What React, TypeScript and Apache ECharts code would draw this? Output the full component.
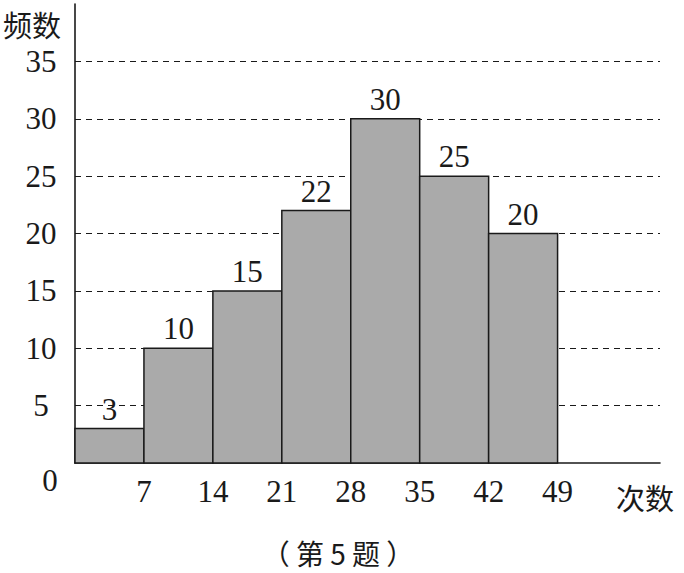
import React, { useEffect, useRef } from "react";
import * as echarts from "echarts";

const binStarts = [0, 7, 14, 21, 28, 35, 42];
const binEnds = [7, 14, 21, 28, 35, 42, 49];
const freqs = [3, 10, 15, 22, 30, 25, 20];
const xTickLabels = [7, 14, 21, 28, 35, 42, 49];
const yTickLabels = [5, 10, 15, 20, 25, 30, 35];
const yName = "频数";
const xName = "次数";
const caption = "（ 第 5 题 ）";
const originLabel = "0";

const SERIF = '"Liberation Serif", "DejaVu Serif", serif';
const CJK = '"Noto Sans CJK SC", sans-serif';
const INK = "#1a1a1a";

export default function App() {
  const ref = useRef<HTMLDivElement>(null);
  useEffect(() => {
    document.body.style.margin = "0";
    const chart = echarts.init(ref.current!, null, { renderer: "svg" });
    const data = binStarts.map((s, i) => [s, binEnds[i], freqs[i]]);
    chart.setOption({
      animation: false,
      backgroundColor: "#fff",
      grid: { left: 75, right: 24, top: 4, bottom: 110, containLabel: false },
      xAxis: {
        type: "value",
        min: 0,
        max: 59.4,
        interval: 7,
        axisLine: { show: true, lineStyle: { color: INK, width: 1.6 } },
        axisTick: { show: false },
        splitLine: { show: false },
        axisLabel: {
          margin: 13,
          fontFamily: SERIF,
          fontSize: 31,
          color: INK,
          showMinLabel: true,
          showMaxLabel: true,
          formatter: (v: number) => (xTickLabels.includes(Math.round(v * 100) / 100) ? String(v) : ""),
        },
      },
      yAxis: {
        type: "value",
        min: 0,
        max: 40,
        interval: 5,
        axisLine: { show: true, lineStyle: { color: INK, width: 1.6 } },
        axisTick: { show: false },
        splitLine: {
          show: true,
          showMinLine: false,
          showMaxLine: false,
          lineStyle: { color: INK, width: 1.2, type: [6, 5] },
        },
        axisLabel: {
          margin: 34,
          align: "center",
          fontFamily: SERIF,
          fontSize: 31,
          color: INK,
          formatter: (v: number) => (yTickLabels.includes(v) ? String(v) : ""),
        },
      },
      graphic: [
        {
          type: "text",
          x: 32,
          y: 24,
          style: { text: yName, fontSize: 29, fontFamily: CJK, fill: INK, align: "center", verticalAlign: "middle" },
        },
        {
          type: "text",
          x: 645,
          y: 497,
          style: { text: xName, fontSize: 29, fontFamily: CJK, fill: INK, align: "center", verticalAlign: "middle" },
        },
        {
          type: "text",
          x: 50,
          y: 480,
          style: { text: originLabel, fontSize: 31, fontFamily: SERIF, fill: INK, align: "center", verticalAlign: "middle" },
        },
        {
          type: "text",
          x: 338,
          y: 553,
          style: { text: caption, fontSize: 28, fontFamily: CJK, fill: INK, align: "center", verticalAlign: "middle" },
        },
      ],
      series: [
        {
          type: "custom",
          z: 5,
          data,
          encode: { x: [0, 1], y: 2 },
          renderItem: (params: any, api: any) => {
            const x0 = api.value(0);
            const x1 = api.value(1);
            const v = api.value(2);
            const p0 = api.coord([x0, v]);
            const p1 = api.coord([x1, 0]);
            return {
              type: "group",
              children: [
                {
                  type: "rect",
                  shape: { x: p0[0], y: p0[1], width: p1[0] - p0[0], height: p1[1] - p0[1] },
                  style: { fill: "#aaaaaa", stroke: INK, lineWidth: 1.5 },
                },
                {
                  type: "text",
                  x: (p0[0] + p1[0]) / 2,
                  y: p0[1] - 4,
                  style: {
                    text: String(v),
                    fontSize: 31,
                    fontFamily: SERIF,
                    fill: INK,
                    align: "center",
                    verticalAlign: "bottom",
                  },
                },
              ],
            };
          },
        },
      ],
    });
    return () => chart.dispose();
  }, []);
  return <div ref={ref} style={{ width: 684, height: 573 }} />;
}
